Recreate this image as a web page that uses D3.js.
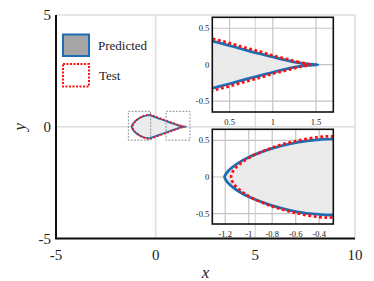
<!DOCTYPE html>
<meta charset="utf-8">
<style>
  body { margin: 0; background: #fff; }
  svg text { font-family: "Liberation Serif", "Times New Roman", "DejaVu Serif", serif; fill: #222; }
</style>
<svg width="374" height="281" font-family="Liberation Serif, DejaVu Serif, serif"></svg>
<script src="https://d3js.org/d3.v7.min.js"></script>
<script>
// main axis ticks
var mainXTicks = [-5, 0, 5, 10];
var mainYTicks = [-5, 0, 5];

// predicted contour (closed, from the tip going over the top)
var predX = [1.52, 1.4, 1.27, 1.1, 1.0, 0.85, 0.69, 0.5, 0.3, 0.1, -0.1, -0.28, -0.4, -0.6, -0.8, -1.0, -1.1, -1.17, -1.205,
             -1.17, -1.1, -1.0, -0.8, -0.6, -0.4, -0.28, -0.1, 0.1, 0.3, 0.5, 0.69, 0.85, 1.0, 1.1, 1.27, 1.4];
var predY = [0, 0.01, 0.03, 0.075, 0.107, 0.15, 0.2, 0.262, 0.324, 0.39, 0.455, 0.515, 0.51, 0.47, 0.39, 0.27, 0.18, 0.09, 0,
             -0.09, -0.18, -0.27, -0.39, -0.47, -0.51, -0.515, -0.455, -0.39, -0.324, -0.262, -0.2, -0.15, -0.107, -0.075, -0.03, -0.01];

// test contour
var testX = [1.43, 1.3, 1.15, 1.0, 0.85, 0.69, 0.5, 0.3, 0.1, -0.1, -0.28, -0.4, -0.6, -0.8, -1.0, -1.08, -1.13, -1.15,
             -1.13, -1.08, -1.0, -0.8, -0.6, -0.4, -0.28, -0.1, 0.1, 0.3, 0.5, 0.69, 0.85, 1.0, 1.15, 1.3];
var testY = [0, 0.035, 0.08, 0.125, 0.18, 0.23, 0.295, 0.357, 0.42, 0.49, 0.55, 0.545, 0.49, 0.4, 0.26, 0.17, 0.09, 0,
             -0.09, -0.17, -0.26, -0.4, -0.49, -0.545, -0.55, -0.49, -0.42, -0.357, -0.295, -0.23, -0.18, -0.125, -0.08, -0.035];

// zoom regions marked in the main view: [x0, x1, y0, y1]
var zoomBoxes = [[-1.37, -0.25, -0.6, 0.69], [0.52, 1.72, -0.6, 0.69]];

// insets
var inset1XDomain = [0.3, 1.7], inset1YDomain = [-0.65, 0.65];
var inset1XTicks = [0.5, 1, 1.5], inset1YTicks = [-0.5, 0, 0.5];
var inset2XDomain = [-1.31, -0.28], inset2YDomain = [-0.64, 0.65];
var inset2XTicks = [-1.2, -1, -0.8, -0.6, -0.4], inset2YTicks = [-0.5, 0, 0.5];

var legendLabels = ["Predicted", "Test"];

var blue = "#1f6db3", red = "#ff1010", fillGray = "#ebebeb";

var svg = d3.select("svg");
var pred = predX.map(function(d, i) { return [d, predY[i]]; });
var test = testX.map(function(d, i) { return [d, testY[i]]; });

var x = d3.scaleLinear().domain([-5, 10]).range([56, 355]);
var y = d3.scaleLinear().domain([-5, 5]).range([238.5, 15]);

// main grid
svg.append("g").selectAll("line.gx").data(mainXTicks).enter().append("line")
    .attr("x1", d => x(d)).attr("x2", d => x(d)).attr("y1", y(5)).attr("y2", y(-5))
    .attr("stroke", "#dedede").attr("stroke-width", 1.5);
svg.append("g").selectAll("line.gy").data(mainYTicks).enter().append("line")
    .attr("y1", d => y(d)).attr("y2", d => y(d)).attr("x1", x(-5)).attr("x2", x(10))
    .attr("stroke", "#dedede").attr("stroke-width", 1.5);

function drawShapes(g, sx, sy, w, dash) {
  var line = d3.line().x(d => sx(d[0])).y(d => sy(d[1])).curve(d3.curveCatmullRomClosed);
  g.append("path").attr("d", line(pred)).attr("fill", fillGray)
      .attr("stroke", blue).attr("stroke-width", w);
  g.append("path").attr("d", line(test)).attr("fill", "none")
      .attr("stroke", red).attr("stroke-width", w)
      .attr("stroke-dasharray", dash);
}

drawShapes(svg.append("g"), x, y, 1.8, "1.8,1.8");

svg.append("g").selectAll("rect").data(zoomBoxes).enter().append("rect")
    .attr("x", d => x(d[0])).attr("y", d => y(d[3]))
    .attr("width", d => x(d[1]) - x(d[0])).attr("height", d => y(d[2]) - y(d[3]))
    .attr("fill", "none").attr("stroke", "#8a8a8a").attr("stroke-width", 1)
    .attr("stroke-dasharray", "1.8,1.5");

// main spines
svg.append("line").attr("x1", x(-5)).attr("x2", x(-5)).attr("y1", y(5)).attr("y2", y(-5))
    .attr("stroke", "#111").attr("stroke-width", 2);
svg.append("line").attr("x1", x(-5) - 1).attr("x2", x(10)).attr("y1", y(-5)).attr("y2", y(-5))
    .attr("stroke", "#111").attr("stroke-width", 2);

svg.append("g").selectAll("text").data(mainXTicks).enter().append("text")
    .attr("x", d => x(d)).attr("y", 260).attr("text-anchor", "middle")
    .attr("font-size", 15).text(d => d);
svg.append("g").selectAll("text").data(mainYTicks).enter().append("text")
    .attr("x", 51).attr("y", d => y(d) + 5).attr("text-anchor", "end")
    .attr("font-size", 15).text(d => d);

svg.append("text").attr("x", x(2.5)).attr("y", 278).attr("text-anchor", "middle")
    .attr("font-size", 17).attr("font-style", "italic").text("x");
svg.append("text").attr("transform", "translate(25," + y(0) + ") rotate(-90)")
    .attr("text-anchor", "middle").attr("font-size", 17).attr("font-style", "italic").text("y");

// legend
svg.append("rect").attr("x", 63).attr("y", 34.5).attr("width", 26).attr("height", 21.5)
    .attr("fill", "#a6a6a6").attr("stroke", blue).attr("stroke-width", 2);
svg.append("rect").attr("x", 63).attr("y", 64).attr("width", 26).attr("height", 22.5)
    .attr("fill", "none").attr("stroke", red).attr("stroke-width", 2).attr("stroke-dasharray", "2,1.5");
svg.append("text").attr("x", 98).attr("y", 49.5).attr("font-size", 13).text(legendLabels[0]);
svg.append("text").attr("x", 99).attr("y", 79.5).attr("font-size", 13).text(legendLabels[1]);

// insets
function inset(id, xd, yd, xr, yr, xt, yt) {
  var sx = d3.scaleLinear().domain(xd).range(xr);
  var sy = d3.scaleLinear().domain(yd).range(yr);
  var g = svg.append("g");
  g.append("clipPath").attr("id", id).append("rect")
      .attr("x", xr[0]).attr("y", yr[1]).attr("width", xr[1] - xr[0]).attr("height", yr[0] - yr[1]);
  g.selectAll("line.vx").data(xt).enter().append("line")
      .attr("x1", d => sx(d)).attr("x2", d => sx(d)).attr("y1", yr[0]).attr("y2", yr[1])
      .attr("stroke", "#c4c4c4").attr("stroke-width", 1.2);
  g.selectAll("line.hy").data(yt).enter().append("line")
      .attr("y1", d => sy(d)).attr("y2", d => sy(d)).attr("x1", xr[0]).attr("x2", xr[1])
      .attr("stroke", "#c4c4c4").attr("stroke-width", 1.2);
  drawShapes(g.append("g").attr("clip-path", "url(#" + id + ")"), sx, sy, 2.8, "2.8,2.6");
  g.append("rect").attr("x", xr[0]).attr("y", yr[1]).attr("width", xr[1] - xr[0]).attr("height", yr[0] - yr[1])
      .attr("fill", "none").attr("stroke", "#111").attr("stroke-width", 1.6);
  g.selectAll("text.tx").data(xt).enter().append("text")
      .attr("x", d => sx(d)).attr("y", yr[0] + 12.5).attr("text-anchor", "middle")
      .attr("font-size", 8.5).text(d => d);
  g.selectAll("text.ty").data(yt).enter().append("text")
      .attr("x", xr[0] - 3).attr("y", d => sy(d) + 3).attr("text-anchor", "end")
      .attr("font-size", 8.5).text(d => d);
}

inset("c1", inset1XDomain, inset1YDomain, [212.3, 333.3], [112, 17.3], inset1XTicks, inset1YTicks);
inset("c2", inset2XDomain, inset2YDomain, [212.3, 333.3], [224, 129.3], inset2XTicks, inset2YTicks);
</script>
